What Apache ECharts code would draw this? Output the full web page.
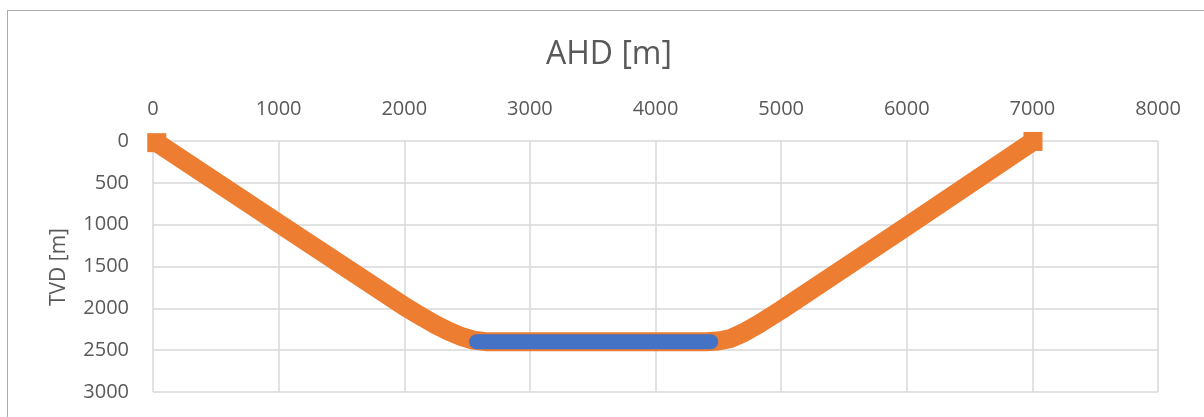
<!DOCTYPE html>
<html>
<head>
<meta charset="utf-8">
<script src="https://cdn.jsdelivr.net/npm/echarts@6/dist/echarts.min.js"></script>
<style>
  html, body { margin: 0; padding: 0; background: #fff; overflow: hidden; }
  #frame { position: absolute; left: 7px; top: 10px; width: 1300px; height: 500px; border: 1px solid #adadad; box-sizing: border-box; }
  #chart { position: absolute; left: 0; top: 0; width: 1204px; height: 417px; }
</style>
</head>
<body>
<div id="frame"></div>
<div id="chart"></div>
<script>
// Well path (orange): AHD [m] vs TVD [m]
const wellAhd = [30, 1000, 2000, 2150, 2250, 2350, 2450, 2550, 2650, 3000, 3500, 4000, 4400, 4500, 4600, 4700, 4820, 5000, 6000, 7005];
const wellTvd = [20, 985, 1975, 2110, 2195, 2270, 2335, 2380, 2398, 2400, 2398, 2398, 2400, 2390, 2360, 2292, 2190, 2020, 1020, 5];
// Horizontal section (blue)
const lateralAhd = [2575, 4440];
const lateralTvd = [2400, 2400];
// Axes
const xMin = 0, xMax = 8000, xStep = 1000;
const yMin = 0, yMax = 3000, yStep = 500;
const xTitle = 'AHD [m]';
const yTitle = 'TVD [m]';

const font = '"Open Sans", "Liberation Sans", sans-serif';
const textColor = '#595959';
const gridColor = '#d9d9d9';

const wellData = wellAhd.map((x, i) => {
  const item = { value: [x, wellTvd[i]] };
  if (i === 0 || i === wellAhd.length - 1) { item.symbol = 'rect'; item.symbolSize = 19; }
  else { item.symbol = 'none'; }
  return item;
});
const lateralData = lateralAhd.map((x, i) => [x, lateralTvd[i]]);

const chart = echarts.init(document.getElementById('chart'), null, { renderer: 'canvas' });
chart.setOption({
  animation: false,
  backgroundColor: 'transparent',
  grid: { left: 153, top: 141, right: 46, bottom: 25, containLabel: false },
  xAxis: {
    type: 'value', position: 'top', min: xMin, max: xMax, interval: xStep,
    axisLine: { show: false }, axisTick: { show: false },
    axisLabel: { color: textColor, fontFamily: font, fontSize: 20, margin: 22, formatter: v => String(v) },
    splitLine: { show: true, lineStyle: { color: gridColor, width: 1.5 } }
  },
  yAxis: {
    type: 'value', inverse: true, min: yMin, max: yMax, interval: yStep,
    axisLine: { show: false }, axisTick: { show: false },
    axisLabel: { color: textColor, fontFamily: font, fontSize: 20, margin: 24, formatter: v => String(v) },
    splitLine: { show: true, lineStyle: { color: gridColor, width: 1.5 } }
  },
  graphic: [
    { type: 'text', x: 609, y: 55, style: { text: xTitle, fill: textColor, font: '32px ' + font, textAlign: 'center', textVerticalAlign: 'middle' } },
    { type: 'text', x: 59, y: 267, rotation: Math.PI / 2, style: { text: yTitle, fill: textColor, font: '21px ' + font, textAlign: 'center', textVerticalAlign: 'middle' } }
  ],
  series: [
    {
      type: 'line', data: wellData, showSymbol: true, symbol: 'none',
      itemStyle: { color: '#ed7d31' },
      lineStyle: { color: '#ed7d31', width: 19, join: 'round', cap: 'butt' },
      silent: true, z: 2
    },
    {
      type: 'line', data: lateralData, showSymbol: false, symbol: 'none',
      lineStyle: { color: '#4472c4', width: 15, cap: 'round' },
      silent: true, z: 3
    }
  ]
});
</script>
</body>
</html>
